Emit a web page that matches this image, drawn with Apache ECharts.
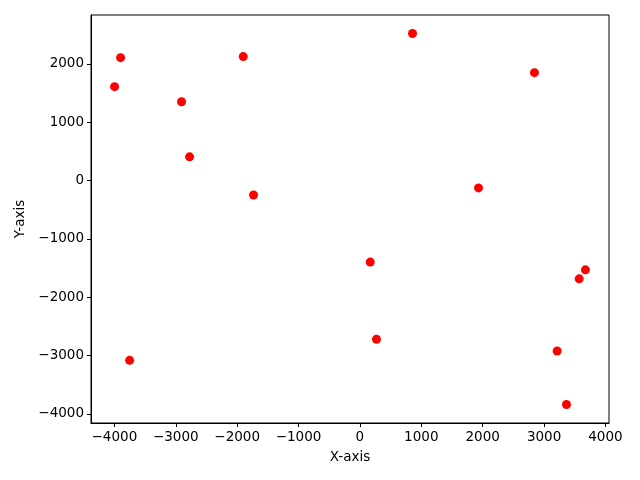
<!DOCTYPE html>
<html>
<head>
<meta charset="utf-8">
<script src="https://cdn.jsdelivr.net/npm/echarts@6/dist/echarts.min.js"></script>
<style>
  html, body { margin: 0; padding: 0; background: #fff; }
  #chart { width: 640px; height: 480px; }
</style>
</head>
<body>
<div id="chart"></div>
<script>
// scatter points
const xValues = [857, -3899, -1901, -3997, 2844, -2906, -2775, -1733, 1932, 168, 3674, 3572, 270, 3213, -3752, 3365];
const yValues = [2522, 2109, 2127, 1611, 1851, 1353, 407, -246, -125, -1398, -1530, -1685, -2721, -2923, -3082, -3839];

const xRange = [-4381, 4058];
const yRange = [-4157, 2840];

const points = xValues.map((x, i) => [x, yValues[i]]);

// matplotlib style minus sign
const fmt = v => String(v).replace('-', '\u2212');

const chart = echarts.init(document.getElementById('chart'));

const axisCommon = {
    type: 'value',
    nameLocation: 'middle',
    nameTextStyle: { color: '#000', fontSize: 13.5, fontFamily: 'DejaVu Sans' },
    axisLine: { show: true, onZero: false, lineStyle: { color: '#000', width: 1 } },
    axisTick: { show: true, inside: false, length: 4, lineStyle: { color: '#000' } },
    axisLabel: {
        color: '#000', fontSize: 13.5, fontFamily: 'DejaVu Sans',
        showMinLabel: false, showMaxLabel: false, formatter: fmt, margin: 7
    },
    splitLine: { show: false }
};

chart.setOption({
    animation: false,
    backgroundColor: '#fff',
    grid: {
        left: 91, right: 31, top: 15, bottom: 57,
        show: true, borderColor: '#000', borderWidth: 1
    },
    xAxis: Object.assign({}, axisCommon, {
        min: xRange[0], max: xRange[1], splitNumber: 8,
        name: 'X-axis', nameGap: 27
    }),
    yAxis: Object.assign({}, axisCommon, {
        min: yRange[0], max: yRange[1], splitNumber: 7,
        name: 'Y-axis', nameGap: 62, nameRotate: 90
    }),
    series: [{
        type: 'scatter',
        data: points,
        symbolSize: 9,
        itemStyle: { color: '#ff0000', opacity: 1 }
    }]
});
</script>
</body>
</html>
